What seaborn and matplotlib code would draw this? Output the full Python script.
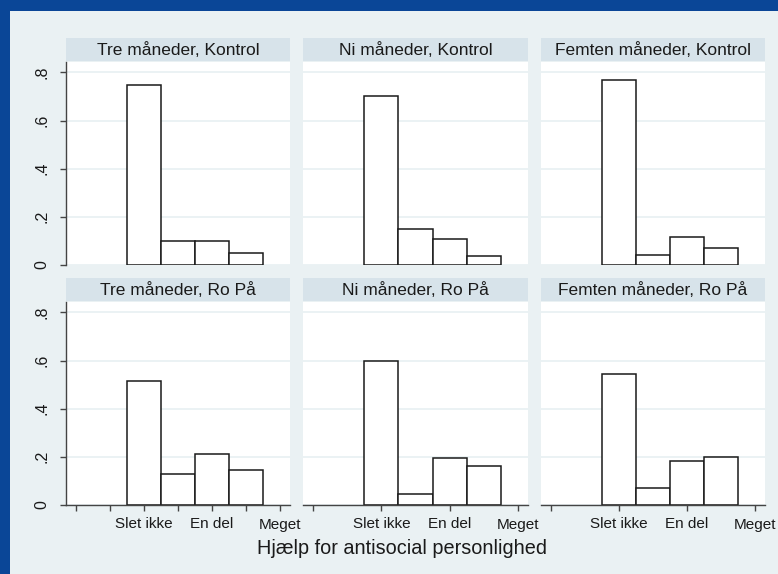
import matplotlib
matplotlib.use("Agg")
import matplotlib.pyplot as plt
from matplotlib.patches import Rectangle
import seaborn as sns

# Andel pr. svarkategori (2 = Slet ikke, 4 = En del, 6 = Meget)
categories = [2, 3, 4, 5]
months = ["Tre måneder", "Ni måneder", "Femten måneder"]
groups = ["Kontrol", "Ro På"]

kontrol_tre = [0.746, 0.101, 0.101, 0.049]
kontrol_ni = [0.703, 0.148, 0.110, 0.036]
kontrol_femten = [0.770, 0.043, 0.115, 0.069]
ropaa_tre = [0.515, 0.129, 0.213, 0.144]
ropaa_ni = [0.598, 0.047, 0.194, 0.161]
ropaa_femten = [0.546, 0.072, 0.181, 0.199]

y_ticks = [0, 0.2, 0.4, 0.6, 0.8]
y_ticklabels = ["0", ".2", ".4", ".6", ".8"]
x_labels = {2: "Slet ikke", 4: "En del", 6: "Meget"}
xlabel = "Hjælp for antisocial personlighed"

panel_values = [[kontrol_tre, kontrol_ni, kontrol_femten],
                [ropaa_tre, ropaa_ni, ropaa_femten]]

sns.set_theme(style="white")
plt.rcParams["font.family"] = ["Liberation Sans", "DejaVu Sans"]

W, H = 778, 574
BLUE = "#0a4697"
BG = "#eaf1f3"
STRIP = "#d7e3ea"
INK = "#1a1a1a"

fig = plt.figure(figsize=(W / 100, H / 100), dpi=100)
fig.patch.set_facecolor(BLUE)
fig.patches.append(Rectangle((10 / W, 0), 1 - 10 / W, 1 - 11 / H,
                             transform=fig.transFigure, facecolor=BG,
                             edgecolor="none", zorder=-5))


def px_box(x0, y0, x1, y1):
    return [x0 / W, 1 - y1 / H, (x1 - x0) / W, (y1 - y0) / H]


col_x = [(66, 290), (303, 528), (541, 765)]
row_plot = [(62, 265), (302, 505)]
row_strip = [(38, 61), (278, 301)]

for r, group in enumerate(groups):
    for c, month in enumerate(months):
        x0, x1 = col_x[c]
        sy0, sy1 = row_strip[r]
        py0, py1 = row_plot[r]

        # titelbjælke
        sax = fig.add_axes(px_box(x0, sy0, x1, sy1))
        sax.set_facecolor(STRIP)
        sax.set_xticks([])
        sax.set_yticks([])
        for s in sax.spines.values():
            s.set_visible(False)
        sax.text(0.5, 0.47, f"{month}, {group}", ha="center", va="center",
                 fontsize=12.5, color=INK, transform=sax.transAxes)

        ax = fig.add_axes(px_box(x0, py0, x1, py1))
        ax.set_facecolor("white")
        sns.histplot(x=categories, weights=panel_values[r][c], discrete=True,
                     stat="count", ax=ax, color="white", alpha=1,
                     edgecolor=INK, linewidth=1.1)
        ax.set_xlim(-0.294, 6.294)
        ax.set_ylim(0, 0.843)
        ax.set_xlabel("")
        ax.set_ylabel("")

        ax.set_yticks(y_ticks)
        ax.yaxis.grid(True, color="#e8f0f2", linewidth=1.2)
        ax.xaxis.grid(False)
        ax.set_axisbelow(True)

        for s in ax.spines.values():
            s.set_visible(False)

        if c == 0:
            ax.spines["left"].set_visible(True)
            ax.spines["left"].set_color("#444444")
            ax.spines["left"].set_linewidth(1.0)
            ax.set_yticklabels(y_ticklabels, rotation=90, va="center",
                               fontsize=11.5, color=INK)
            ax.tick_params(axis="y", left=True, length=4, width=1,
                           color="#444444", pad=8)
        else:
            ax.tick_params(axis="y", left=False, labelleft=False)

        if r == 1:
            ax.spines["bottom"].set_visible(True)
            ax.spines["bottom"].set_color("#444444")
            ax.spines["bottom"].set_linewidth(1.0)
            ticks = list(range(7)) if c == 0 else [0, 2, 4, 6]
            ax.set_xticks(ticks)
            ax.set_xticklabels([x_labels.get(t, "") for t in ticks],
                               fontsize=11, color=INK)
            ax.tick_params(axis="x", bottom=True, length=4, width=1,
                           color="#444444", pad=5)
        else:
            ax.set_xticks([])

fig.text(402 / W, 1 - 549 / H, xlabel, ha="center", va="center",
         fontsize=14.3, color=INK)

fig.savefig("out.png", dpi=100, facecolor=fig.get_facecolor())
